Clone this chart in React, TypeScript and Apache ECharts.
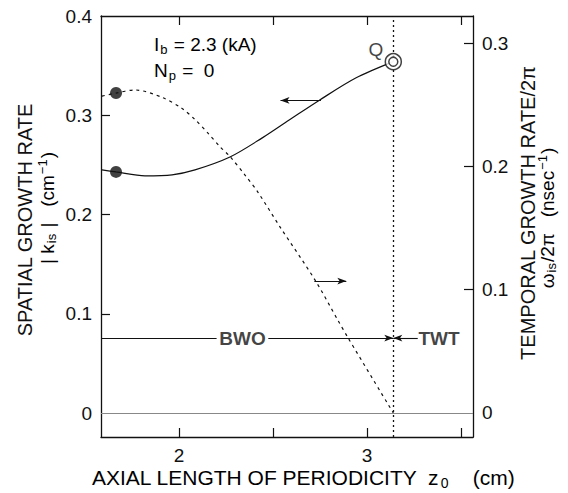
import React, { useEffect, useRef } from "react";
import * as echarts from "echarts";

// Data
const spatialX = [1.59, 1.665, 1.819, 1.963, 2.085, 2.271, 2.441, 2.6, 2.745, 2.94, 3.14];
const spatialY = [0.245, 0.243, 0.239, 0.24, 0.245, 0.258, 0.277, 0.297, 0.315, 0.3375, 0.354];
const temporalX = [1.59, 1.665, 1.766, 1.91, 2.016, 2.085, 2.154, 2.218, 2.271, 2.351, 2.42, 2.537, 2.723, 2.846, 2.899, 3.14];
const temporalY = [0.257, 0.2595, 0.262, 0.256, 0.247, 0.238, 0.227, 0.216, 0.208, 0.193, 0.179, 0.151, 0.108, 0.075, 0.061, 0.0];
const startDotX = 1.665;
const startDotSpatial = 0.243;
const startDotTemporal = 0.2595;
const pointQ = [3.14, 0.354];
const boundaryZ = 3.14;
const regimeLineY = 0.0756;
const xTicks = [2, 2.5, 3, 3.5];
const xTickLabels = [2, 3];
const leftTickLabels = [0, 0.1, 0.2, 0.3, 0.4];
const rightTickLabels = [0, 0.1, 0.2, 0.3];

const FONT = "Liberation Sans";
const INK = "#111";

export default function App() {
  const ref = useRef<HTMLDivElement>(null);
  useEffect(() => {
    const chart = echarts.init(ref.current!, null, { renderer: "svg" });
    const fmt = (v: number) => (v === 0 ? "0" : v.toFixed(1));
    const tickStyle = { show: true, inside: true, length: 9, lineStyle: { color: INK, width: 1.2 } };
    const axisLine = { show: true, onZero: false, lineStyle: { color: INK, width: 1.3 } };
    const labelStyle = { fontFamily: FONT, fontSize: 19, color: INK };
    const rich = {
      n: { fontFamily: FONT, fontSize: 19, color: INK, lineHeight: 22 },
      sub: { fontFamily: FONT, fontSize: 13, color: INK, verticalAlign: "bottom", lineHeight: 14, padding: [0, 1, 0, 1] },
      sup: { fontFamily: FONT, fontSize: 13, color: INK, verticalAlign: "top", lineHeight: 14, padding: [0, 1, 0, 1] },
    };
    const richBig = {
      n: { fontFamily: FONT, fontSize: 21, color: INK, lineHeight: 24 },
      sub: { fontFamily: FONT, fontSize: 14, color: INK, verticalAlign: "bottom", lineHeight: 15, padding: [0, 1, 0, 1] },
    };
    const arrowEnd = (coord: number[]) => ({ coord, symbol: "arrow", symbolSize: [5, 9] });
    const plainEnd = (coord: number[]) => ({ coord, symbol: "none" });

    chart.setOption({
      animation: false,
      backgroundColor: "#ffffff",
      grid: { left: 101, right: 95, top: 16, bottom: 56, containLabel: false, outerBoundsMode: "none" },
      xAxis: [
        {
          type: "value", position: "bottom", min: 1.585, max: 3.564,
          axisLine, splitLine: { show: false },
          axisTick: { ...tickStyle, customValues: xTicks },
          axisLabel: { ...labelStyle, margin: 9, customValues: xTickLabels, formatter: (v: number) => String(v) },
        },
        {
          type: "value", position: "top", min: 1.585, max: 3.564,
          axisLine, splitLine: { show: false },
          axisTick: { ...tickStyle, customValues: xTicks },
          axisLabel: { show: false },
        },
      ],
      yAxis: [
        {
          type: "value", position: "left", min: -0.024, max: 0.4,
          axisLine, splitLine: { show: false },
          axisTick: { ...tickStyle, customValues: [0.1, 0.2, 0.3] },
          axisLabel: { ...labelStyle, margin: 9, customValues: leftTickLabels, formatter: fmt },
        },
        {
          type: "value", position: "right", min: -0.0195, max: 0.322,
          axisLine, splitLine: { show: false },
          axisTick: { ...tickStyle, customValues: [0.1, 0.2, 0.3] },
          axisLabel: { ...labelStyle, margin: 9, customValues: rightTickLabels, formatter: fmt },
        },
      ],
      series: [
        {
          name: "spatial", type: "line", xAxisIndex: 0, yAxisIndex: 0, smooth: 0.3,
          symbol: "none", lineStyle: { color: INK, width: 1.2 },
          data: spatialX.map((x, i) => [x, spatialY[i]]),
          markLine: {
            silent: true, symbol: ["none", "none"], label: { show: false },
            lineStyle: { color: INK, width: 1.1, type: "solid" },
            data: [
              [{ ...plainEnd([1.585, 0]), lineStyle: { color: "#888", width: 1 } }, plainEnd([3.564, 0])],
              [{ ...plainEnd([boundaryZ, -0.024]), lineStyle: { type: [2, 3], width: 1.3, color: INK } }, plainEnd([boundaryZ, 0.4])],
              [plainEnd([1.585, regimeLineY]), plainEnd([2.2, regimeLineY])],
              [plainEnd([2.475, regimeLineY]), arrowEnd([boundaryZ, regimeLineY])],
              [plainEnd([3.27, regimeLineY]), arrowEnd([boundaryZ, regimeLineY])],
              [plainEnd([2.755, 0.315]), arrowEnd([2.54, 0.315])],
              [plainEnd([2.72, 0.133]), arrowEnd([2.89, 0.133])],
            ],
          },
        },
        {
          name: "temporal", type: "line", xAxisIndex: 0, yAxisIndex: 1, smooth: 0.3,
          symbol: "none", lineStyle: { color: INK, width: 1.2, type: [3, 4] },
          data: temporalX.map((x, i) => [x, temporalY[i]]),
        },
        {
          type: "scatter", yAxisIndex: 0, symbol: "circle", symbolSize: 12,
          itemStyle: { color: INK }, data: [[startDotX, startDotSpatial]], z: 5,
        },
        {
          type: "scatter", yAxisIndex: 1, symbol: "circle", symbolSize: 12,
          itemStyle: { color: INK }, data: [[startDotX, startDotTemporal]], z: 5,
        },
        {
          type: "scatter", yAxisIndex: 0, symbol: "circle", symbolSize: 16, z: 6,
          itemStyle: { color: "#fff", borderColor: INK, borderWidth: 1.5 },
          label: { show: true, formatter: "Q", position: [-16, -13], fontFamily: FONT, fontSize: 19, color: INK },
          data: [pointQ],
        },
        {
          type: "scatter", yAxisIndex: 0, symbol: "circle", symbolSize: 9, z: 7,
          itemStyle: { color: "#fff", borderColor: INK, borderWidth: 1.5 },
          data: [pointQ],
        },
        {
          type: "scatter", yAxisIndex: 0, symbolSize: 0, z: 8,
          label: { show: true, position: "inside", formatter: (p: any) => p.data[2], fontFamily: FONT, fontSize: 19, fontWeight: "bold", color: INK },
          data: [[2.338, regimeLineY, "BWO"], [3.383, regimeLineY, "TWT"]],
        },
      ],
      graphic: [
        {
          type: "text", left: 154, top: 35,
          style: { text: "{n|I}{sub|b}{n| = 2.3 (kA)}", rich },
        },
        {
          type: "text", left: 154, top: 61,
          style: { text: "{n|N}{sub|p}{n| =  0}", rich },
        },
        {
          type: "text", x: 25, y: 220, rotation: Math.PI / 2,
          style: { text: "SPATIAL GROWTH RATE", font: `20px "${FONT}"`, fill: INK, align: "center", verticalAlign: "middle" },
        },
        {
          type: "text", x: 47, y: 208, rotation: Math.PI / 2,
          style: { text: "{n|| k}{sub|is}{n| |   (cm}{sup|−1}{n|)}", rich, align: "center", verticalAlign: "middle" },
        },
        {
          type: "text", x: 528, y: 213, rotation: Math.PI / 2,
          style: { text: "TEMPORAL GROWTH RATE/2π", font: `20px "${FONT}"`, fill: INK, align: "center", verticalAlign: "middle" },
        },
        {
          type: "text", x: 547, y: 218, rotation: Math.PI / 2,
          style: { text: "{n|ω}{sub|is}{n|/2π   (nsec}{sup|−1}{n|)}", rich, align: "center", verticalAlign: "middle" },
        },
        {
          type: "text", left: 92, top: 467,
          style: { text: "{n|AXIAL LENGTH OF PERIODICITY  z}{sub|0}{n|    (cm)}", rich: richBig },
        },
      ],
    });
    return () => chart.dispose();
  }, []);
  return <div ref={ref} style={{ position: "fixed", left: 0, top: 0, width: 568, height: 493, background: "#fff" }} />;
}
